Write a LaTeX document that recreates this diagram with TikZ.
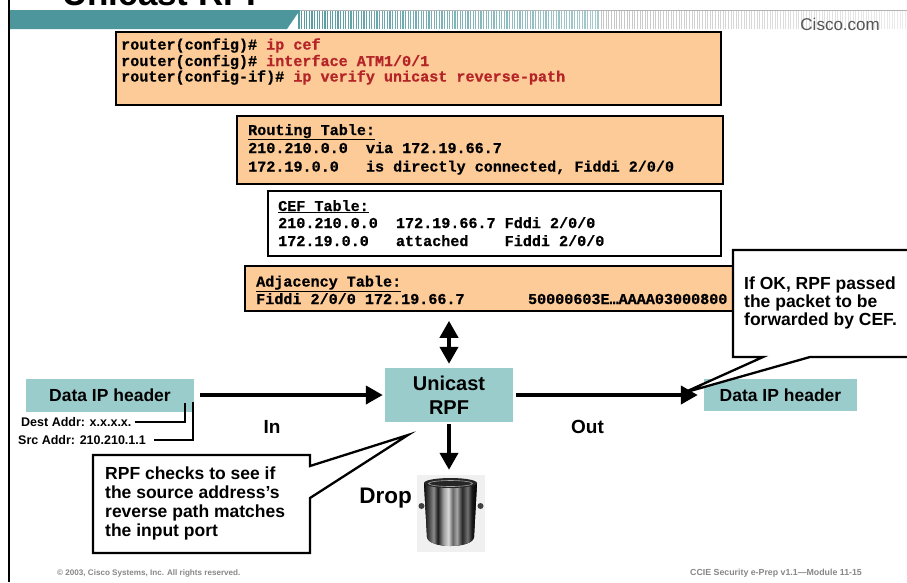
\documentclass[tikz,border=0pt]{standalone}
\usepackage{fontspec}
\setmainfont{Liberation Sans}
\newfontfamily\codefont[BoldFeatures={FakeBold=0.7}]{Liberation Mono}
\usetikzlibrary{arrows.meta,calc,shadows}

\definecolor{peach}{RGB}{253,203,152}
\definecolor{paleteal}{RGB}{155,204,204}
\definecolor{bandteal}{RGB}{76,150,156}
\definecolor{cmdred}{RGB}{180,36,40}
\definecolor{footgray}{RGB}{135,135,135}
\definecolor{cisgray}{RGB}{85,85,85}

% metallic look of the waste bin, varying left to right
\pgfdeclarehorizontalshading{binmetal}{100bp}{color(0bp)=(black); color(25bp)=(black!95);
  color(30bp)=(black!70); color(34bp)=(black!45); color(38bp)=(black!90); color(43bp)=(black!40);
  color(48bp)=(black!15); color(52bp)=(black!60); color(56bp)=(black!35); color(61bp)=(black!85);
  color(66bp)=(black!55); color(70bp)=(black!90); color(75bp)=(black); color(100bp)=(black)}

\newcommand{\cmd}[1]{\textcolor{cmdred}{#1}}

\begin{document}
\begin{tikzpicture}[x=1pt,y=-1pt,
  tablebox/.style={draw=black, line width=1.8pt, inner sep=0pt, anchor=north west,
    drop shadow={shadow xshift=-1.3pt, shadow yshift=-1.3pt, opacity=1, fill=black}},
  tealbox/.style={fill=paleteal, inner sep=0pt,
    font=\bfseries\fontsize{17.5}{17.5}\selectfont},
  code/.style={anchor=base west, inner sep=0pt, font=\codefont\bfseries\fontsize{15.1}{15.1}\selectfont},
  say/.style={anchor=base west, inner sep=0pt, font=\bfseries\fontsize{17.5}{17.5}\selectfont},
  callout/.style={fill=white, draw=black, line width=2.3pt, line join=miter},
  label/.style={anchor=base, inner sep=0pt, font=\bfseries\fontsize{19}{19}\selectfont},
  small/.style={anchor=west, inner sep=0pt, font=\bfseries\fontsize{12.5}{12.5}\selectfont},
  foot/.style={anchor=base west, inner sep=0pt, text=footgray},
  flow/.style={line width=4pt, -{Triangle[length=17pt,width=18pt]}},
  bracket/.style={line width=2.5pt}]

\useasboundingbox (0,0) rectangle (907,582);
\clip (0,0) rectangle (907,582);
\fill[white] (0,0) rectangle (907,582);

% ---- page header ----
\node[anchor=base west, inner sep=0pt, font=\bfseries\fontsize{35}{35}\selectfont] (title) at (62,5) {Unicast RPF};
\fill[bandteal] (9,10) -- (300,10) -- (287,29) -- (9,29) -- cycle;
\foreach \i in {0,...,115}{
  \pgfmathsetmacro\xx{299+2.6*\i}
  \pgfmathsetmacro\op{0.95-0.45*\i/115}
  \draw[bandteal, line width=1.1pt, opacity=\op] (\xx,10) -- (\xx,29);
}
\foreach \i in {0,...,117}{
  \pgfmathsetmacro\xx{601+2.6*\i}
  \pgfmathsetmacro\op{0.45-0.3*\i/117}
  \draw[gray, line width=0.9pt, opacity=\op] (\xx,10) -- (\xx,29);
}
\draw[gray!60, line width=0.8pt] (300,10.4) -- (907,10.4);
\node[anchor=base east, inner sep=0pt, font=\fontsize{17}{17}\selectfont, text=cisgray] (cisco) at (880,30) {Cisco.com};
\draw[line width=2pt] (9,0) -- (9,582);

% ---- configuration and tables ----
\node[tablebox, fill=peach, minimum width=605, minimum height=73] (config) at (115,31) {};
\node[code] (c1) at (121,49.5) {router(config)\# \cmd{ip cef}};
\node[code] (c2) at (121,66)   {router(config)\# \cmd{interface ATM1/0/1}};
\node[code] (c3) at (121,81.5) {router(config-if)\# \cmd{ip verify unicast reverse-path}};

\node[tablebox, fill=peach, minimum width=486, minimum height=68] (routing) at (236,115) {};
\node[code] (r1) at (248,135)   {\underline{Routing Table:}};
\node[code] (r2) at (248,153)   {210.210.0.0~~via 172.19.66.7};
\node[code] (r3) at (248,171.5) {172.19.0.0~~~is directly connected, Fiddi 2/0/0};

\node[tablebox, fill=white, minimum width=453, minimum height=65] (cef) at (267,190) {};
\node[code] (f1) at (278,211) {\underline{CEF Table:}};
\node[code] (f2) at (278,228) {210.210.0.0~~172.19.66.7 Fddi 2/0/0};
\node[code] (f3) at (278,246) {172.19.0.0~~~attached~~~~Fiddi 2/0/0};

\node[tablebox, fill=peach, minimum width=489, minimum height=45] (adj) at (244,265) {};
\node[code] (a1) at (256,286.5) {\underline{Adjacency Table:}};
\node[code] (a2) at (256,304)   {Fiddi 2/0/0 172.19.66.7~~~~~~~50000603E…AAAA03000800};

% ---- packet path ----
\node[tealbox, minimum width=128, minimum height=54, align=center,
  font=\bfseries\fontsize{20}{23.5}\selectfont] (unicast) at (449,395) {Unicast\\RPF};
\node[tealbox, minimum width=168, minimum height=33] (dataL) at (110,395) {Data IP header};
\node[tealbox, minimum width=153, minimum height=32] (dataR) at (780.5,395) {Data IP header};

\node[small] (dest) at (21,422) {Dest Addr: x.x.x.x.};
\node[small] (src)  at (18,440) {Src Addr: 210.210.1.1};
\draw[bracket] ($(dest.east)+(3,0)$) -| ($(dataL.south east)+(-9,-9)$);
\draw[bracket] ($(src.east)+(8,0)$) -| ($(dataL.south east)+(-1,-10)$);

\node[label] (in)  at (272,433) {In};
\node[label] (out) at (587.5,433) {Out};
\node[label, font=\bfseries\fontsize{22.5}{22.5}\selectfont] (drop) at (385.5,503) {Drop};

% ---- waste bin ----
\node[fill=gray!12, minimum width=68, minimum height=77, inner sep=0pt] (bin) at (451,513.5) {};
\fill[black!75] (421.5,506) circle (3);
\fill[black!75] (480.5,506) circle (3);
\fill[shading=binmetal] (424,483) -- (477,483) -- (474,537) .. controls (473,549) and (428,549) .. (427,537) -- cycle;
\fill[black!85] (450.5,483) ellipse (26.5 and 5);
\draw[gray!70, line width=0.6pt] (450.5,483.5) ellipse (22 and 3);

% ---- callouts ----
\draw[callout] (733,250) -- (912,250) -- (912,357) -- (810,357) -- (683,393) -- (763,357) -- (733,357) -- cycle;
\node[say] (ok1) at (744,289) {If OK, RPF passed};
\node[say] (ok2) at (744,307) {the packet to be};
\node[say] (ok3) at (744,325) {forwarded by CEF.};

\draw[callout] (93,455) -- (310,455) -- (310,466) -- (408,435) -- (310,498) -- (310,553) -- (93,553) -- cycle;
\node[say] (rp1) at (105,479.5) {RPF checks to see if};
\node[say] (rp2) at (105,498.5) {the source address’s};
\node[say] (rp3) at (105,517.5) {reverse path matches};
\node[say] (rp4) at (105,536.5) {the input port};

% ---- arrows ----
\draw[flow, shorten <=6pt, shorten >=2pt] (dataL.east) -- (unicast.west);
\draw[flow, shorten <=3pt, shorten >=6pt] (unicast.east) -- (dataR.west);
\draw[line width=4pt, {Triangle[length=17pt,width=18pt]}-{Triangle[length=17pt,width=18pt]},
  shorten <=9pt, shorten >=4pt] (unicast.north |- adj.south) -- (unicast.north);
\draw[flow, shorten <=2pt, shorten >=5pt] (unicast.south) -- (unicast.south |- bin.north);

% ---- footer ----
\node[foot, font=\bfseries\fontsize{8.1}{8.1}\selectfont] (copy) at (57,575) {© 2003, Cisco Systems, Inc. All rights reserved.};
\node[foot, font=\bfseries\fontsize{8.8}{8.8}\selectfont] (module) at (690,575) {CCIE Security e-Prep v1.1—Module 11-15};
\end{tikzpicture}
\end{document}
